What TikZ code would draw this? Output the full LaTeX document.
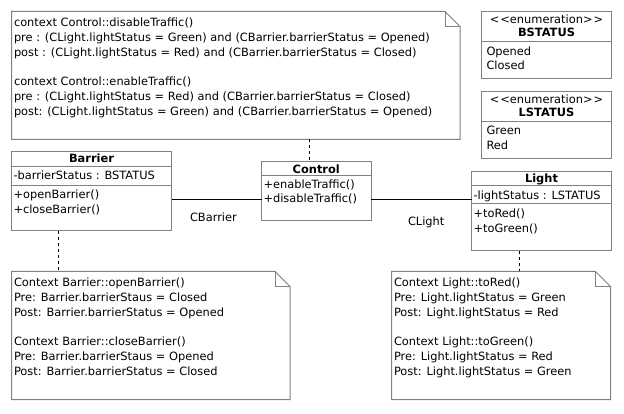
\documentclass[tikz,border=0pt]{standalone}
\usepackage{fontspec}
\setmainfont{DejaVu Sans}
\newcommand\umlfs{\fontsize{11.4pt}{14.8pt}\selectfont}
\definecolor{bordergray}{HTML}{808080}
\tikzset{
  border/.style={draw=bordergray, line width=1pt},
  boxnode/.style={border, fill=white, anchor=north west, inner sep=0pt, outer sep=0pt},
  notearea/.style={draw=none, anchor=north west, inner sep=0pt, outer sep=0pt},
  txt/.style={font=\umlfs, inner sep=0pt, outer sep=0pt, anchor=base west, text=black},
  hdr/.style={txt, anchor=base, font=\umlfs\bfseries},
  hdrplain/.style={txt, anchor=base},
  assoc/.style={draw=black, line width=1pt},
  dep/.style={draw=black, line width=1pt, dash pattern=on 3pt off 3pt},
}
\newcommand\notedraw[1]{%
  \draw[border, fill=white] (#1.north west) -- ([xshift=-15pt]#1.north east)
    -- ([yshift=-15pt]#1.north east) -- (#1.south east) -- (#1.south west) -- cycle;
  \draw[border] ([xshift=-15pt]#1.north east) |- ([yshift=-15pt]#1.north east);}
\begin{document}
\begin{tikzpicture}[x=1pt,y=-1pt]
\useasboundingbox[fill=white] (0,0) rectangle (624,414);

% ---------- notes ----------
\node[notearea, minimum width=448.5pt, minimum height=128pt] (topnote) at (11.5,11.5) {};
\notedraw{topnote}
\node[notearea, minimum width=278.5pt, minimum height=128pt] (blnote) at (11.5,271.5) {};
\notedraw{blnote}
\node[notearea, minimum width=219pt, minimum height=128pt] (brnote) at (391.5,271.5) {};
\notedraw{brnote}

\node[txt] (t1) at (14,26.7) {context Control::disableTraffic()};
\node[txt] (t2) at (14,41.5) {pre : (CLight.lightStatus = Green) and (CBarrier.barrierStatus = Opened)};
\node[txt] (t3) at (14,56.3) {post : (CLight.lightStatus = Red) and (CBarrier.barrierStatus = Closed)};
\node[txt] (t4) at (14,85.9) {context Control::enableTraffic()};
\node[txt] (t5) at (14,100.7) {pre : (CLight.lightStatus = Red) and (CBarrier.barrierStatus = Closed)};
\node[txt] (t6) at (14,115.5) {post: (CLight.lightStatus = Green) and (CBarrier.barrierStatus = Opened)};

\node[txt] (b1) at (14,286.7) {Context Barrier::openBarrier()};
\node[txt] (b2) at (14,301.5) {Pre: Barrier.barrierStaus = Closed};
\node[txt] (b3) at (14,316.3) {Post: Barrier.barrierStatus = Opened};
\node[txt] (b4) at (14,345.9) {Context Barrier::closeBarrier()};
\node[txt] (b5) at (14,360.7) {Pre: Barrier.barrierStaus = Opened};
\node[txt] (b6) at (14,375.5) {Post: Barrier.barrierStatus = Closed};

\node[txt] (l1) at (394,286.7) {Context Light::toRed()};
\node[txt] (l2) at (394,301.5) {Pre: Light.lightStatus = Green};
\node[txt] (l3) at (394,316.3) {Post: Light.lightStatus = Red};
\node[txt] (l4) at (394,345.9) {Context Light::toGreen()};
\node[txt] (l5) at (394,360.7) {Pre: Light.lightStatus = Red};
\node[txt] (l6) at (394,375.5) {Post: Light.lightStatus = Green};

% ---------- enumerations ----------
\node[boxnode, minimum width=130pt, minimum height=67.5pt] (bstatus) at (481.5,11.5) {};
\draw[border] (bstatus.west |- 0,42) -- (bstatus.east |- 0,42);
\node[hdrplain] (bst1) at (bstatus.north |- 0,23.5) {<\kern1pt<enumeration>\kern1pt>};
\node[hdr] (bst2) at (bstatus.north |- 0,37) {BSTATUS};
\node[txt] (bst3) at (486.5,55.5) {Opened};
\node[txt] (bst4) at (486.5,70) {Closed};

\node[boxnode, minimum width=130pt, minimum height=67pt] (lstatus) at (481.5,91.5) {};
\draw[border] (lstatus.west |- 0,122) -- (lstatus.east |- 0,122);
\node[hdrplain] (lst1) at (lstatus.north |- 0,103.5) {<\kern1pt<enumeration>\kern1pt>};
\node[hdr] (lst2) at (lstatus.north |- 0,117) {LSTATUS};
\node[txt] (lst3) at (486.5,135) {Green};
\node[txt] (lst4) at (486.5,150) {Red};

% ---------- classes ----------
\node[boxnode, minimum width=160pt, minimum height=79.5pt] (barrier) at (11.5,151.5) {};
\draw[border] (barrier.west |- 0,166.5) -- (barrier.east |- 0,166.5);
\draw[border] (barrier.west |- 0,185.5) -- (barrier.east |- 0,185.5);
\node[hdr] (barriername) at (barrier.north |- 0,163) {Barrier};
\node[txt] (barrierattr) at (13.5,180) {-barrierStatus : BSTATUS};
\node[txt] (barrierop1) at (13.5,199) {+openBarrier()};
\node[txt] (barrierop2) at (13.5,213.5) {+closeBarrier()};

\node[boxnode, minimum width=109.5pt, minimum height=59pt] (ctrl) at (261.5,162) {};
\draw[border] (ctrl.west |- 0,176) -- (ctrl.east |- 0,176);
\node[hdr] (ctrlname) at (ctrl.north |- 0,173.5) {Control};
\node[txt] (ctrlop1) at (263.5,188.5) {+enableTraffic()};
\node[txt] (ctrlop2) at (263.5,203) {+disableTraffic()};

\node[boxnode, minimum width=140pt, minimum height=79.5pt] (light) at (471.5,171.5) {};
\draw[border] (light.west |- 0,186) -- (light.east |- 0,186);
\draw[border] (light.west |- 0,204) -- (light.east |- 0,204);
\node[hdr] (lightname) at (light.north |- 0,183) {Light};
\node[txt] (lightattr) at (473.5,199.5) {-lightStatus : LSTATUS};
\node[txt] (lightop1) at (473.5,218) {+toRed()};
\node[txt] (lightop2) at (473.5,232.5) {+toGreen()};

% ---------- connectors ----------
\draw[assoc] (barrier.east |- 0,200) -- (ctrl.west |- 0,200);
\draw[assoc] (ctrl.east |- 0,200) -- (light.west |- 0,200);
\node[txt] (cbarrierlbl) at (190,222) {CBarrier};
\node[txt] (clightlbl) at (408,225.5) {CLight};

\draw[dep] (topnote.south -| 309.5,0) -- (ctrl.north -| 309.5,0);
\draw[dep] (barrier.south -| 58.5,0) -- (blnote.north -| 58.5,0);
\draw[dep] (light.south -| 519.5,0) -- (brnote.north -| 519.5,0);
\end{tikzpicture}
\end{document}
